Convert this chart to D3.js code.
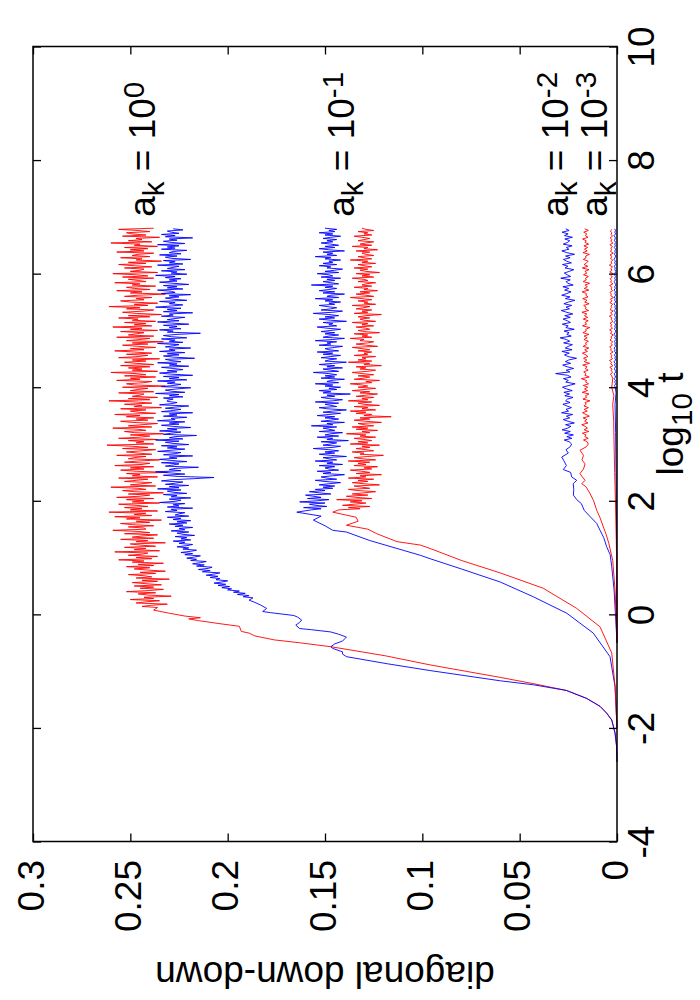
<!DOCTYPE html>
<html><head><meta charset="utf-8">
<script src="https://cdn.jsdelivr.net/npm/d3@7"></script>
<style>body{margin:0;background:#fff} text{font-family:"Liberation Sans",Arial,Helvetica,sans-serif;fill:#000}</style>
</head><body><svg id="c" width="700" height="1000"></svg>
<script>
// ---------- DATA (log10 t, value in thousandths) ----------
const xTicks = [-4,-2,0,2,4,6,8,10];
const xTickLabels = ["-4","-2","0","2","4","6","8","10"];
const yTicks = [0,0.05,0.1,0.15,0.2,0.25,0.3];
const yTickLabels = ["0","0.05","0.1","0.15","0.2","0.25","0.3"];

// a_k = 1
const a1RedRise = [[-2.6,0],[-2.33,0.2],[-2.09,1.0],[-1.86,2.7],[-1.74,5.3],[-1.62,8.7],[-1.48,15.6],[-1.34,26],[-1.22,43],[-1.11,60],[-1.0,78],[-0.89,96],[-0.73,119],[-0.57,147],[-0.5,163],[-0.45,176],[-0.38,186],[-0.33,189],[-0.3,193],[-0.21,194],[-0.16,205],[-0.11,215],[-0.08,220],[-0.06,214],[-0.03,222],[0.02,230],[0.075,238]];
const a1RedNoiseStart = 0.12, a1RedNoiseStep = 0.02;
const a1RedNoise = [236,244,239,231,247,242,235,250,238,243,229,241,246,237,252,240,233,245,238,248,234,242,249,236,244,230,247,239,243,251,237,245,232,241,248,
240,252,238,246,233,249,243,256,239,247,236,251,244,241,258,235,248,242,253,237,245,250,232,247,241,255,238,249,244,236,253,240,246,259,242,
243,251,238,249,255,240,247,234,252,245,258,239,248,242,261,236,250,244,253,241,
247,256,235,249,243,252,238,257,245,240,251,233,248,254,242,246,260,237,250,244,
239,253,247,241,256,236,249,245,252,231,247,255,243,250,238,258,244,240,253,246,
235,251,248,242,257,239,246,252,244,237,254,241,249,262,238,247,243,251,236,256,
245,240,250,233,248,253,242,246,259,239,251,244,236,249,255,241,247,238,252,245,
258,237,246,250,242,255,234,248,244,253,239,247,261,240,251,236,249,245,243,256,
238,250,246,241,254,232,248,252,243,239,257,245,250,237,253,242,247,260,236,249,
244,251,240,255,238,247,253,242,249,235,256,246,241,252,239,248,258,243,250,237,
246,254,241,249,233,252,245,240,257,238,251,247,243,255,236,250,244,259,239,248,
242,253,237,249,246,256,240,251,234,247,254,243,238,252,245,261,241,248,236,250,
255,243,247,239,253,246,232,250,244,257,240,248,252,237,249,245,258,242,246,251,
238,254,241,247,259,236,250,245,243,253,239,248,256,242,251,234,247,244,255,240,
249,246,238,257,243,250,241,253,236,248,245,260,239,251,244,247,235,254,242,249,
252,240,246,256,238];
const a1BlueRise = [[-2.6,0],[-2.33,0.2],[-2.09,1.0],[-1.86,2.7],[-1.74,5.3],[-1.62,8.7],[-1.48,15.6],[-1.34,26],[-1.24,43],[-1.17,60],[-1.08,78],[-0.99,96],[-0.87,118],[-0.745,139],[-0.7,141],[-0.66,141],[-0.6,146],[-0.57,147],[-0.52,145],[-0.47,141],[-0.4,139],[-0.35,143],[-0.31,147],[-0.27,157],[-0.25,163],[-0.19,165],[-0.14,163],[-0.1,162],[-0.05,164],[-0.02,166],[0.03,178],[0.05,182],[0.105,180],[0.163,183],[0.21,186],[0.25,189]];
const a1BlueNoiseStart = 0.29, a1BlueNoiseStep = 0.02;
const a1BlueNoise = [187,192,189,195,191,197,194,200,198,203,199,205,201,207,203,200,206,204,209,205,
211,207,204,213,209,215,210,208,216,212,218,214,211,219,216,221,217,214,222,218,
224,219,216,223,220,226,221,218,225,222,228,219,224,221,227,217,223,226,220,229,
222,225,218,227,223,230,221,226,219,228,224,231,220,227,225,222,232,226,229,218,
231,225,228,222,235,227,224,230,219,229,226,233,221,228,231,224,236,225,230,220,
232,227,223,234,229,217,207,226,233,222,229,237,224,230,227,215,232,228,225,234,
221,229,235,226,230,218,233,227,224,236,229,222,231,226,234,220,228,232,225,237,
223,230,227,216,233,229,224,235,226,231,219,228,234,225,230,222,236,227,229,221,
233,226,230,218,234,228,224,232,227,220,235,229,226,231,231,228,233,223,230,225,
237,222,229,232,226,219,234,228,224,231,227,236,221,230,225,233,218,229,235,226,
231,223,228,234,220,230,226,236,224,229,232,217,228,233,225,231,222,235,227,230,
219,232,228,225,236,223,230,227,234,221,229,233,226,214,231,228,235,224,230,226,
233,220,229,236,225,231,227,222,234,228,230,218,233,226,231,224,237,229,223,230,
227,235,221,228,232,225,230,219,234,227,229,236,223,231,226,233,220,228,235,226,
230,224,232,227,237,221,229,226,234,222,231,228,225,236,223,230,227,233,219,229,
232,226,235,224,230,228,221,234,227,231,225,236,222,229,233,226,230,218,232,227,
234,225,229,231,223,228];

// a_k = 0.1
const a01BlueRise = [[-2.0,0],[-1.27,1.0],[-0.745,3.6],[-0.33,12.2],[0.02,25.8],[0.31,43],[0.57,60],[0.8,80],[0.98,96],[1.04,101],[1.13,110],[1.3,127],[1.45,139],[1.48,146],[1.56,150],[1.66,156],[1.73,152],[1.8,164.5]];
const a01BlueNoiseStart = 1.84, a01BlueNoiseStep = 0.02;
const a01BlueNoise = [157,152,161,149,155,158,150,163,154,148,159,152,156,160,147,153,158,150,155,146,
151,145,153,148,142,150,155,144,149,152,146,140,151,147,154,143,148,150,145,153,
141,149,146,155,144,148,151,139,147,153,145,150,143,148,156,146,142,151,147,144,
152,138,149,146,154,143,150,147,141,153,145,148,151,144,157,146,149,140,152,147,
143,150,145,154,148,142,151,146,139,149,153,144,147,150,143,155,146,141,148,152,
145,149,137,151,147,153,144,148,142,150,146,155,143,149,147,140,152,145,150,144,
148,156,143,147,151,141,149,145,153,146,139,150,148,144,152,147,142,151,146,154,
143,148,150,145,141,153,147,149,144,155,146,140,151,148,143,150,145,152,147,142,
149,154,144,148,146,151,139,147,153,145,150,143,148,156,146,141,152,147,144,149,
153,145,148,142,150,146,155,143,149,147,140,151,145,153,148,144,150,146,157,143,
147,151,145,149,142,152,146,148,154,143,150,145,141,149,147,153,144,151,146,148,
142,150,147,155,144,149,146,151,140,148,153,145,150,143,147,152,146,149,144,151,
147,142,150,146,153,145,148,144,150];
const a01RedRise = [[-2.0,0],[-1.27,1.0],[-0.68,2.7],[-0.22,8.7],[0.105,20.7],[0.46,37.9],[0.73,60],[0.95,80],[1.16,96],[1.22,101],[1.28,113],[1.42,123.4],[1.5,128],[1.57,139],[1.64,133],[1.71,134],[1.8,146]];
const a01RedNoiseStart = 1.84, a01RedNoiseStep = 0.02;
const a01RedNoise = [143,132,138,127,141,135,129,137,131,144,126,134,139,128,136,130,124,133,138,127,
131,135,122,130,136,128,133,125,138,129,132,121,134,127,131,137,126,130,123,135,
129,133,127,138,124,131,135,128,120,132,130,136,125,129,134,127,131,122,137,128,
133,126,130,135,124,132,129,139,127,131,123,134,128,136,125,130,133,121,129,135,
127,132,116,130,126,134,129,137,124,131,128,135,122,130,133,126,138,128,131,125,
134,129,123,132,127,136,130,124,133,128,131,137,126,129,122,135,130,127,133,125,
131,136,128,124,132,129,134,121,130,127,138,126,133,129,131,124,135,128,130,126,
133,127,131,136,123,129,134,128,125,132,130,137,126,131,128,135,122,130,133,127,
129,134,125,131,128,136,124,130,132,127,133,129,121,135,128,131,126,134,130,127,
136,124,130,128,133,126,131,137,125,129,134,127,132,123,130,128,135,126,131,129,
124,133,128,130,136,125,131,127,134,122,129,132,128,135,126,130,133,124,131,128,
137,126,130,133,125,129,131,127,134,123,130,128,136,126,132,129,125,133,130,127,
131,135,126,130,128,133,125,129,131];

// a_k = 0.01
const a001BlueRise = [[-0.5,0],[0.0,0.8],[0.43,1.5],[0.84,2.7],[1.05,3.5],[1.19,5.3],[1.35,6.8],[1.48,8.7],[1.6,10.4],[1.7,13.2],[1.83,16.8],[1.95,18.3],[2.02,20.7],[2.1,22.4],[2.2,22.2],[2.3,22.5],[2.36,20.7],[2.42,23.3],[2.5,23.8],[2.55,27.6],[2.62,26.0],[2.7,27.2],[2.77,28.4],[2.84,25.0],[2.9,26.2],[2.95,24.1],[3.0,23.3]];
const a001BlueNoiseStart = 3.04, a001BlueNoiseStep = 0.03;
const a001BlueNoise = [24.6,27.1,23.2,25.8,22.4,26.9,24.0,28.2,25.3,23.7,26.4,21.9,25.1,27.6,24.3,26.0,22.8,28.5,24.9,26.2,
23.4,25.7,27.8,24.1,26.4,25.5,22.6,26.8,24.4,27.3,23.0,25.9,28.0,24.7,21.5,26.3,25.0,27.5,23.6,25.4,
31.5,24.2,26.1,22.3,25.6,27.9,23.8,26.5,24.8,20.8,25.2,27.0,24.5,28.3,23.1,26.6,25.0,22.9,27.4,24.3,
26.0,29.2,23.5,25.8,24.6,27.2,22.0,26.3,25.1,28.1,23.9,25.5,27.7,24.0,26.8,22.7,25.9,28.6,24.4,26.2,
23.3,27.3,25.0,21.6,26.5,24.2,28.4,25.7,23.6,26.9,24.8,27.8,22.5,25.3,26.1,24.0,28.9,23.8,25.6,27.1,
24.5,22.2,26.7,25.2,28.0,23.4,25.9,27.5,24.1,26.4,21.8,25.8,28.3,24.7,26.0,23.1,27.6,25.4,24.3,26.8,
22.9,27.0,25.1,28.2,24.6,26.3];
const a001RedRise = [[-0.5,0],[0.0,0.5],[0.43,1.0],[0.95,2.2],[1.25,4.2],[1.4,5.5],[1.54,7.0],[1.7,8.7],[1.83,10.4],[2.0,12.0],[2.13,13.9],[2.25,16.0],[2.3,18.1],[2.36,16.4],[2.42,17.8],[2.48,19.0],[2.56,17.2],[2.65,16.4],[2.72,18.0],[2.8,17.2],[2.89,19.0],[2.95,15.8],[3.0,14.7]];
const a001RedNoiseStart = 3.04, a001RedNoiseStep = 0.03;
const a001RedNoise = [15.4,17.2,14.8,16.5,15.9,17.8,14.5,16.9,15.2,16.3,18.1,14.9,16.6,15.5,17.4,14.2,16.0,17.7,15.3,16.8,
14.7,17.0,15.8,16.4,13.9,17.5,15.6,16.2,14.4,17.9,15.1,16.7,15.0,17.3,14.6,16.1,15.7,18.3,14.3,16.5,
15.9,17.1,14.8,16.3,15.4,17.6,14.1,16.8,15.5,17.2,14.9,16.0,17.8,15.2,16.6,14.5,17.4,15.7,16.2,14.7,
17.0,15.3,16.9,14.4,17.5,15.8,16.1,14.0,17.7,15.6,16.4,14.8,17.3,15.1,16.7,15.5,18.0,14.6,16.3,15.9,
17.1,14.3,16.6,15.4,17.6,14.9,16.0,15.7,17.9,14.5,16.8,15.2,16.4,14.1,17.4,15.8,16.2,14.7,17.2,15.5,
16.5,14.4,17.8,15.0,16.9,15.6,14.8,17.3,15.9,16.1,14.2,17.5,15.3,16.7,15.1,17.0,14.6,16.4,15.8,17.7,
14.9,16.3,15.5,17.1,14.7,16.6];

// a_k = 0.001
const a0001RedRise = [[-0.5,0],[1.0,0.2],[2.0,0.8],[2.5,1.2],[3.0,1.5],[3.4,1.7],[3.7,2.2],[3.85,1.6],[4.0,2.7],[4.15,2.2]];
const a0001RedNoiseStart = 4.2, a0001RedNoiseStep = 0.03;
const a0001RedNoise = [2.7,3.4,2.2,3.0,2.5,3.7,2.1,3.2,2.8,3.9,2.3,3.1,2.6,3.5,2.0,3.3,2.9,3.8,2.4,3.0,
2.2,3.6,2.7,3.1,1.9,3.4,2.5,3.8,2.3,3.2,2.8,3.5,2.1,3.0,2.6,3.9,2.4,3.3,2.0,3.6,
2.7,3.1,2.2,3.7,2.5,3.4,1.8,3.2,2.9,3.6,2.3,3.0,2.6,3.8,2.1,3.3,2.8,3.5,2.4,3.1,
2.0,3.7,2.6,3.2,2.3,3.9,2.7,3.0,2.2,3.4,2.5,3.6,1.9,3.3,2.8,3.1,2.4,3.7,2.1,3.2,
2.6,3.5,2.3,3.0,2.7,3.4,2.5];
const a0001BlueRise = [[-0.5,0],[1.5,0.2],[2.5,0.5],[3.2,0.7],[3.7,1.0],[3.9,0.5]];
const a0001BlueNoiseStart = 4.0, a0001BlueNoiseStep = 0.03;
const a0001BlueNoise = [0.9,1.3,0.6,1.2,0.8,1.5,0.7,1.1,1.4,0.5,1.0,1.3,0.7,1.2,0.9,1.6,0.6,1.1,0.8,1.4,
0.5,1.2,1.0,1.5,0.7,1.1,0.9,1.3,0.6,1.2,0.8,1.4,1.0,0.5,1.3,0.9,1.1,0.7,1.5,0.8,
1.2,0.6,1.3,1.0,0.8,1.4,0.7,1.1,0.9,1.6,0.6,1.2,1.0,1.3,0.7,1.1,0.8,1.5,0.9,1.2,
0.5,1.0,1.4,0.8,1.2,0.7,1.3,1.0,0.6,1.1,0.9,1.4,0.7,1.2,0.8,1.5,1.0,0.6,1.3,0.9,
1.1,0.7,1.4,0.8,1.2,0.6,1.3,1.0,0.9,1.5,0.7,1.1,0.8,1.2];

// curve labels: [log10 t, value, exponent]
const curveLabels = [[7.0,0.243,"0"],[7.0,0.141,"-1"],[7.0,0.031,"-2"],[7.0,0.011,"-3"]];

// ---------- DRAW ----------
const svg = d3.select("#c");
const F = {left:33, right:617, top:46.5, bottom:841.5};
const FS = 37;
const vx = d3.scaleLinear().domain([0,0.3]).range([F.right, F.left]);   // value -> screen x
const ty = d3.scaleLinear().domain([-4,10]).range([F.bottom, F.top]);   // log10 t -> screen y

function build(rise, start, step, noise){
  return rise.map(([L,v])=>[L,v/1000]).concat(noise.map((v,i)=>[start+i*step, v/1000]));
}
const series = [
  {c:"#ff0000", d:build(a1RedRise,a1RedNoiseStart,a1RedNoiseStep,a1RedNoise)},
  {c:"#0000ff", d:build(a1BlueRise,a1BlueNoiseStart,a1BlueNoiseStep,a1BlueNoise)},
  {c:"#0000ff", d:build(a01BlueRise,a01BlueNoiseStart,a01BlueNoiseStep,a01BlueNoise)},
  {c:"#ff0000", d:build(a01RedRise,a01RedNoiseStart,a01RedNoiseStep,a01RedNoise)},
  {c:"#0000ff", d:build(a001BlueRise,a001BlueNoiseStart,a001BlueNoiseStep,a001BlueNoise)},
  {c:"#ff0000", d:build(a001RedRise,a001RedNoiseStart,a001RedNoiseStep,a001RedNoise)},
  {c:"#0000ff", d:build(a0001BlueRise,a0001BlueNoiseStart,a0001BlueNoiseStep,a0001BlueNoise)},
  {c:"#ff0000", d:build(a0001RedRise,a0001RedNoiseStart,a0001RedNoiseStep,a0001RedNoise)}
];
const line = d3.line().x(d=>vx(d[1])).y(d=>ty(d[0]));
svg.append("g").selectAll("path").data(series).join("path")
  .attr("d", s=>line(s.d)).attr("fill","none").attr("stroke", s=>s.c).attr("stroke-width",0.9);

// axes
function styleAxis(g){
  g.select(".domain").remove();
  g.selectAll(".tick line").attr("stroke","#000").attr("stroke-width",1.3);
}
const gB = svg.append("g").attr("transform",`translate(0,${F.bottom})`)
  .call(d3.axisBottom(vx).tickValues(yTicks).tickSize(-8).tickFormat((d,i)=>yTickLabels[i]));
styleAxis(gB);
gB.selectAll(".tick text").attr("x",null).attr("y",null).attr("dy",null)
  .attr("text-anchor","end").attr("font-size",FS).attr("font-family",null).attr("fill","#000")
  .attr("transform","translate(10,18.5) rotate(-90)");
const gT = svg.append("g").attr("transform",`translate(0,${F.top})`)
  .call(d3.axisTop(vx).tickValues(yTicks).tickSize(-8).tickFormat(""));
styleAxis(gT);
const gR = svg.append("g").attr("transform",`translate(${F.right},0)`)
  .call(d3.axisRight(ty).tickValues(xTicks).tickSize(-8).tickFormat((d,i)=>xTickLabels[i]));
styleAxis(gR);
gR.selectAll(".tick text").attr("x",null).attr("y",null).attr("dy",null)
  .attr("text-anchor","middle").attr("font-size",FS).attr("font-family",null).attr("fill","#000")
  .attr("transform","translate(37,0) rotate(-90)");
const gL = svg.append("g").attr("transform",`translate(${F.left},0)`)
  .call(d3.axisLeft(ty).tickValues(xTicks).tickSize(-8).tickFormat(""));
styleAxis(gL);

svg.append("rect").attr("x",F.left).attr("y",F.top).attr("width",F.right-F.left).attr("height",F.bottom-F.top)
  .attr("fill","none").attr("stroke","#000").attr("stroke-width",1.5);

svg.append("text").attr("transform",`translate(${(F.left+F.right)/2},962) rotate(180)`)
  .attr("text-anchor","middle").attr("font-size",FS).text("diagonal down-down");
const xl = svg.append("text").attr("transform",`translate(683,424) rotate(-90)`)
  .attr("text-anchor","middle").attr("font-size",FS);
xl.append("tspan").text("log");
xl.append("tspan").attr("font-size",FS*0.8).attr("dy",9).text("10");
xl.append("tspan").attr("dy",-9).text(" t");

curveLabels.forEach(([L,v,e])=>{
  const t = svg.append("text").attr("transform",`translate(${vx(v)+11},${ty(L)}) rotate(-90)`)
    .attr("text-anchor","start").attr("font-size",FS);
  t.append("tspan").text("a");
  t.append("tspan").attr("font-size",FS*0.8).attr("dy",9).text("k");
  t.append("tspan").attr("dy",-9).text(" = 10");
  t.append("tspan").attr("font-size",FS*0.8).attr("dy",-11).text(e);
});
</script></body></html>
